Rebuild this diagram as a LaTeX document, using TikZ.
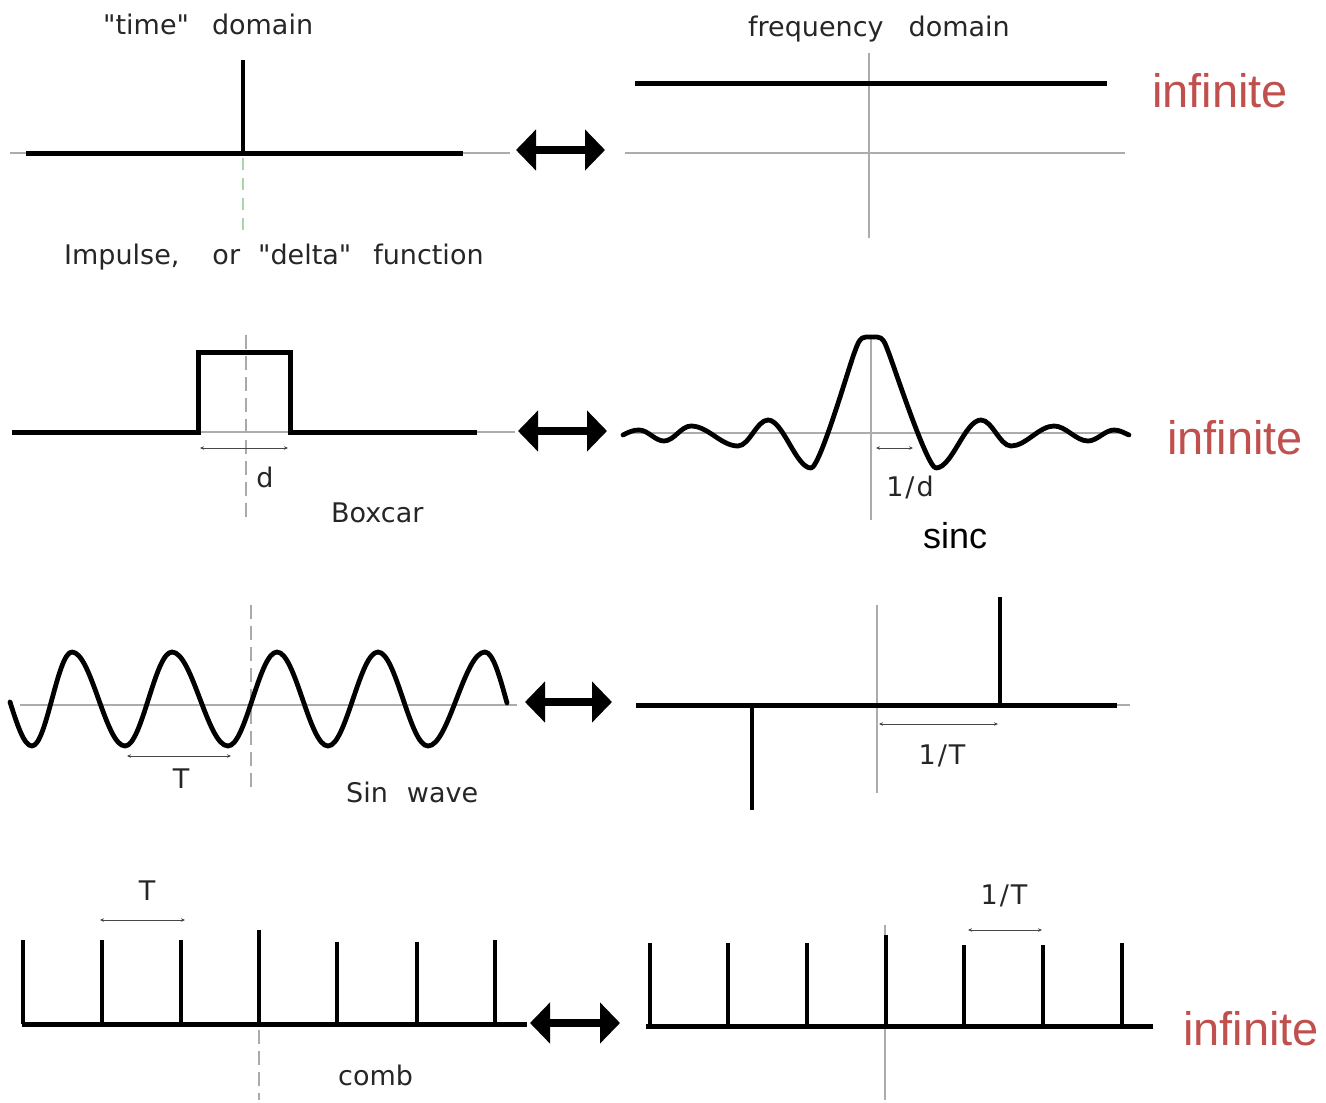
\documentclass[tikz,border=0pt]{standalone}
\usepackage{fontspec}
\usetikzlibrary{arrows.meta}
\newfontfamily\lblfont{DejaVu Sans}
\newfontfamily\arialfont{Liberation Sans}
\definecolor{axisgray}{RGB}{172,172,172}
\definecolor{guidegray}{RGB}{170,170,170}
\definecolor{guidegreen}{RGB}{170,215,170}
\definecolor{infred}{RGB}{192,80,77}
\definecolor{dimgray}{RGB}{70,70,70}
\begin{document}
\begin{tikzpicture}[x=1pt,y=-1pt,
  axisline/.style={line width=1.5pt, draw=axisgray},
  guide/.style={line width=1.5pt, draw=guidegray, dash pattern=on 14pt off 7pt},
  greenguide/.style={line width=2pt, draw=guidegreen, dash pattern=on 12pt off 8pt},
  thickline/.style={line width=5pt, draw=black},
  spikeline/.style={line width=4pt, draw=black},
  wave/.style={line width=4.8pt, draw=black, line join=round, line cap=round},
  dimline/.style={line width=1pt, draw=dimgray, {Stealth[length=4pt,width=3.5pt]}-{Stealth[length=4pt,width=3.5pt]}},
  bigarrow/.style={line width=8pt, draw=black, {Triangle[length=20pt,width=40pt]}-{Triangle[length=20pt,width=40pt]}},
  lbl/.style={font={\lblfont\fontsize{27}{30}\selectfont}, text=black!85, inner sep=0pt, anchor=base west},
  lblc/.style={lbl, anchor=base},
  inflbl/.style={font={\arialfont\fontsize{47}{50}\selectfont}, text=infred, inner sep=0pt, anchor=base west},
]
\useasboundingbox (0,0) rectangle (1326,1103);

% ---------------- Row 1 : impulse <-> constant ----------------
\coordinate (r1axL) at (10,153);
\coordinate (r1axR) at (510,153);
\draw[axisline] (r1axL) -- (r1axR);
\coordinate (r1gT) at (243,158);
\coordinate (r1gB) at (243,232);
\draw[greenguide] (r1gT) -- (r1gB);
\coordinate (r1thL) at (26,153);
\coordinate (r1thR) at (463,153);
\draw[thickline] (r1thL) -- (r1thR);
\coordinate (r1spB) at (243,153);
\coordinate (r1spT) at (243,60);
\draw[spikeline] (r1spB) -- (r1spT);

\node[lbl] (timedom) at (103,34) {"time"\hspace{23pt}domain};
\node[lbl] (impulse) at (64,264) {Impulse,\hspace{33pt}or\hspace{18pt}"delta"\hspace{22pt}function};

\coordinate (ar1L) at (516,150);
\coordinate (ar1R) at (605,150);
\draw[bigarrow] (ar1L) -- (ar1R);

\coordinate (f1axL) at (625,153);
\coordinate (f1axR) at (1125,153);
\draw[axisline] (f1axL) -- (f1axR);
\coordinate (f1vT) at (869,53);
\coordinate (f1vB) at (869,238);
\draw[axisline] (f1vT) -- (f1vB);
\coordinate (f1thL) at (635,83);
\coordinate (f1thR) at (1107,83);
\draw[thickline] (f1thL) -- (f1thR);

\node[lbl] (freqdom) at (748,36) {frequency\hspace{25pt}domain};
\node[inflbl] (inf1) at (1152,107) {infinite};

% ---------------- Row 2 : boxcar <-> sinc ----------------
\draw[axisline] (12,432) -- (515,432);
\draw[guide] (246,335) -- (246,517);
\draw[thickline, line join=miter] (12,432) -- (198,432) -- (198,352) -- (290,352) -- (290,432) -- (477,432);
\coordinate (dbL) at (200,448);
\coordinate (dbR) at (288,448);
\draw[dimline] (dbL) -- (dbR);
\node[lblc] (dlbl) at (265,487) {d};
\node[lbl] (boxcar) at (331,522) {Boxcar};

\coordinate (ar2L) at (518,431);
\coordinate (ar2R) at (607,431);
\draw[bigarrow] (ar2L) -- (ar2R);

\draw[axisline] (625,433) -- (1125,433);
\draw[axisline] (871,335) -- (871,520);
\draw[wave] (623,435)
  .. controls +(6,-3) and +(-6,0) .. (639,430)
  .. controls +(9,0) and +(-9,0) .. (664,441)
  .. controls +(10,0) and +(-10,0) .. (691,426)
  .. controls +(17,0) and +(-17,0) .. (738,446)
  .. controls +(11,0) and +(-11,0) .. (768,420)
  .. controls +(15,0) and +(-15,0) .. (811,468)
  .. controls +(9,0) and +(-5,12) .. (855,351)
  .. controls +(3,-8) and +(-6,0) .. (866,337)
  -- (877,337)
  .. controls +(6,0) and +(-3,-8) .. (888,351)
  .. controls +(5,12) and +(-9,0) .. (936,468)
  .. controls +(16,0) and +(-16,0) .. (981,420)
  .. controls +(11,0) and +(-11,0) .. (1011,446)
  .. controls +(15,0) and +(-15,0) .. (1054,426)
  .. controls +(12,0) and +(-12,0) .. (1088,441)
  .. controls +(9,0) and +(-9,0) .. (1114,430)
  .. controls +(6,0) and +(-5,-2) .. (1129,435);
\coordinate (dsL) at (876,448);
\coordinate (dsR) at (913,448);
\draw[dimline] (dsL) -- (dsR);
\node[lblc] (oned) at (910,496) {1\hspace{2pt}/\hspace{2pt}d};
\node[font={\arialfont\fontsize{36}{40}\selectfont}, inner sep=0pt, anchor=base west] (sinc) at (923,548) {sinc};
\node[inflbl] (inf2) at (1167,454) {infinite};

% ---------------- Row 3 : sine <-> pair of deltas ----------------
\draw[axisline] (20,705) -- (517,705);
\draw[guide] (251,605) -- (251,790);
\draw[wave] (10,702) sin (32,746) cos (52,699) sin (72,652) cos (98.5,699)
  sin (125,746) cos (148.5,699) sin (172,652) cos (200,699)
  sin (228,746) cos (252.5,699) sin (277,652) cos (302.5,699)
  sin (328,746) cos (353,699) sin (378,652) cos (403,699)
  sin (428,746) cos (456.5,699) sin (485,652) cos (507,703);
\coordinate (dtL) at (127,756);
\coordinate (dtR) at (231,756);
\draw[dimline] (dtL) -- (dtR);
\node[lblc] (T3) at (181,788) {T};
\node[lbl] (sinwave) at (346,802) {Sin\hspace{19pt}wave};

\coordinate (ar3L) at (525,702);
\coordinate (ar3R) at (612,702);
\draw[bigarrow] (ar3L) -- (ar3R);

\draw[axisline] (636,705) -- (1130,705);
\draw[axisline] (877,605) -- (877,793);
\draw[thickline] (636,705) -- (1117,705);
\draw[spikeline] (1000,705) -- (1000,597);
\draw[spikeline] (752,705) -- (752,810);
\coordinate (d3L) at (879,724);
\coordinate (d3R) at (998,724);
\draw[dimline] (d3L) -- (d3R);
\node[lblc] (oneT3) at (942,764) {1\hspace{2pt}/\hspace{2pt}T};

% ---------------- Row 4 : comb <-> comb ----------------
\draw[guide] (259,1030) -- (259,1100);
\draw[thickline] (22,1024) -- (527,1024);
\foreach \x/\t in {23/940,102/940,181/940,337/942,417/942,495/940}
  \draw[spikeline] (\x,1024) -- (\x,\t);
\draw[spikeline, line width=4.5pt] (259,1024) -- (259,930);
\coordinate (d4L) at (100,920);
\coordinate (d4R) at (185,920);
\draw[dimline] (d4L) -- (d4R);
\node[lblc] (T4) at (147,900) {T};
\node[lbl] (comb) at (338,1085) {comb};

\coordinate (ar4L) at (530,1023);
\coordinate (ar4R) at (620,1023);
\draw[bigarrow] (ar4L) -- (ar4R);

\draw[axisline] (885,925) -- (885,1100);
\draw[thickline] (646,1026) -- (1153,1026);
\foreach \x/\t in {650/943,728/943,807/943,964/945,1043/945,1122/943}
  \draw[spikeline] (\x,1026) -- (\x,\t);
\draw[spikeline, line width=4.5pt] (886,1026) -- (886,935);
\coordinate (d5L) at (968,930);
\coordinate (d5R) at (1042,930);
\draw[dimline] (d5L) -- (d5R);
\node[lblc] (oneT4) at (1004,904) {1\hspace{2pt}/\hspace{2pt}T};
\node[inflbl] (inf4) at (1183,1045) {infinite};
\end{tikzpicture}
\end{document}
